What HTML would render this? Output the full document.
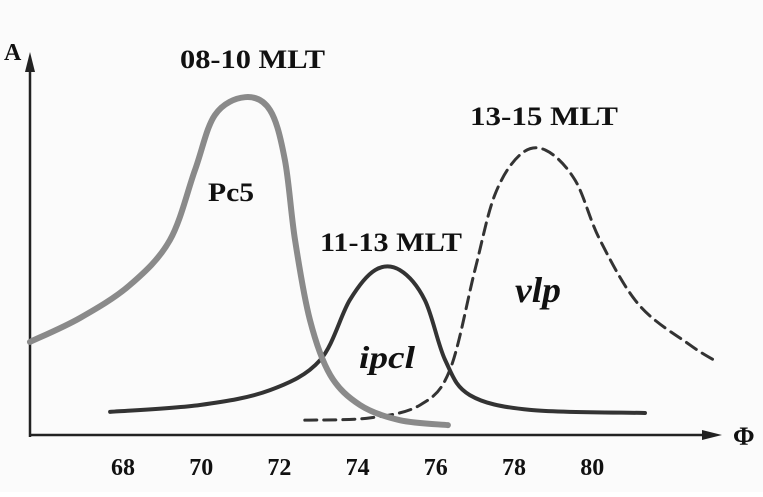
<!DOCTYPE html>
<html><head><meta charset="utf-8">
<style>
html,body{margin:0;padding:0;background:#fff;}
svg text{font-family:"Liberation Serif",serif;font-weight:bold;fill:#111;}
</style></head>
<body>
<svg id="chart" width="763" height="492" viewBox="0 0 763 492" xmlns="http://www.w3.org/2000/svg">
<rect width="763" height="492" fill="#fbfbfb"/>
<g id="axes">
<line x1="30" y1="435" x2="712" y2="435" stroke="#222" stroke-width="2.5"/>
<polygon points="722,435 702,430 702,440" fill="#222"/>
<line x1="30" y1="437" x2="30" y2="70" stroke="#222" stroke-width="2.5"/>
<polygon points="30,52 25,72 35,72" fill="#222"/>
<text x="4" y="60" font-size="24">A</text>
<text x="733" y="445" font-size="26">Φ</text>
</g>
<g id="ticks"></g>
<g id="series"></g>
<text x="180" y="68" font-size="26" textLength="145" lengthAdjust="spacingAndGlyphs">08-10 MLT</text>
<text x="470" y="125" font-size="26" textLength="148" lengthAdjust="spacingAndGlyphs">13-15 MLT</text>
<text x="320" y="251" font-size="26" textLength="142" lengthAdjust="spacingAndGlyphs">11-13 MLT</text>
<text x="208" y="201" font-size="26" textLength="46" lengthAdjust="spacingAndGlyphs">Pc5</text>
<text x="359" y="368" font-size="32" font-style="italic" textLength="56" lengthAdjust="spacingAndGlyphs">ipcl</text>
<text x="515" y="302" font-size="36" font-style="italic" textLength="46" lengthAdjust="spacingAndGlyphs">vlp</text>
</svg>
<script>
const tickValues = [68, 70, 72, 74, 76, 78, 80];
const pc5Phi = [65.62, 66.9, 68.18, 69.2, 69.84, 70.35, 71.12, 71.76, 72.14, 72.4, 72.78, 73.3, 74.06, 75.08, 76.31];
const pc5Amp = [2.45, 3.08, 3.95, 5.13, 6.97, 8.42, 8.89, 8.55, 7.24, 5.13, 3.03, 1.58, 0.79, 0.39, 0.26];
const ipclPhi = [67.67, 69.97, 71.76, 73.04, 73.8, 74.45, 75.08, 75.72, 76.24, 76.87, 78.41, 81.35];
const ipclAmp = [0.61, 0.79, 1.18, 1.97, 3.55, 4.34, 4.34, 3.55, 1.97, 1.05, 0.66, 0.58];
const vlpPhi = [72.65, 74.32, 75.6, 76.36, 77.0, 77.51, 78.15, 78.8, 79.56, 80.2, 81.2, 82.5, 83.2];
const vlpAmp = [0.39, 0.45, 0.79, 1.71, 4.34, 6.32, 7.37, 7.5, 6.71, 5.13, 3.42, 2.37, 1.92];

const NS = 'http://www.w3.org/2000/svg';
function xScale(v){ return 123 + (v - 68) * 39.1; }
function yScale(a){ return 435 - a * 38; }

const tg = document.getElementById('ticks');
tickValues.forEach(v => {
  const t = document.createElementNS(NS, 'text');
  
  
  t.setAttribute('x', xScale(v));
  t.setAttribute('y', 475);
  t.setAttribute('text-anchor', 'middle');
  t.setAttribute('font-size', '24');
  t.textContent = v;
  tg.appendChild(t);
});

function smoothPath(xs, ys){
  const p = xs.map((x, i) => [xScale(x), yScale(ys[i])]);
  let d = 'M' + p[0][0] + ',' + p[0][1];
  for (let i = 0; i < p.length - 1; i++) {
    const p0 = p[Math.max(0, i - 1)], p1 = p[i], p2 = p[i + 1], p3 = p[Math.min(p.length - 1, i + 2)];
    const c1x = p1[0] + (p2[0] - p0[0]) / 6, c1y = p1[1] + (p2[1] - p0[1]) / 6;
    const c2x = p2[0] - (p3[0] - p1[0]) / 6, c2y = p2[1] - (p3[1] - p1[1]) / 6;
    d += ' C' + c1x + ',' + c1y + ' ' + c2x + ',' + c2y + ' ' + p2[0] + ',' + p2[1];
  }
  return d;
}
const sg = document.getElementById('series');
function addLine(xs, ys, name, color, width, dash){
  const path = document.createElementNS(NS, 'path');
  
  
  path.setAttribute('d', smoothPath(xs, ys));
  path.setAttribute('fill', 'none');
  path.setAttribute('stroke', color);
  path.setAttribute('stroke-width', width);
  path.setAttribute('stroke-linecap', 'round');
  if (dash) path.setAttribute('stroke-dasharray', dash);
  sg.appendChild(path);
}
addLine(ipclPhi, ipclAmp, 'ipcl-curve', '#333', 4, null);
addLine(vlpPhi, vlpAmp, 'vlp-curve', '#333', 3, '12 7');
addLine(pc5Phi, pc5Amp, 'pc5-curve', '#8a8a8a', 6, null);
</script>
</body></html>
